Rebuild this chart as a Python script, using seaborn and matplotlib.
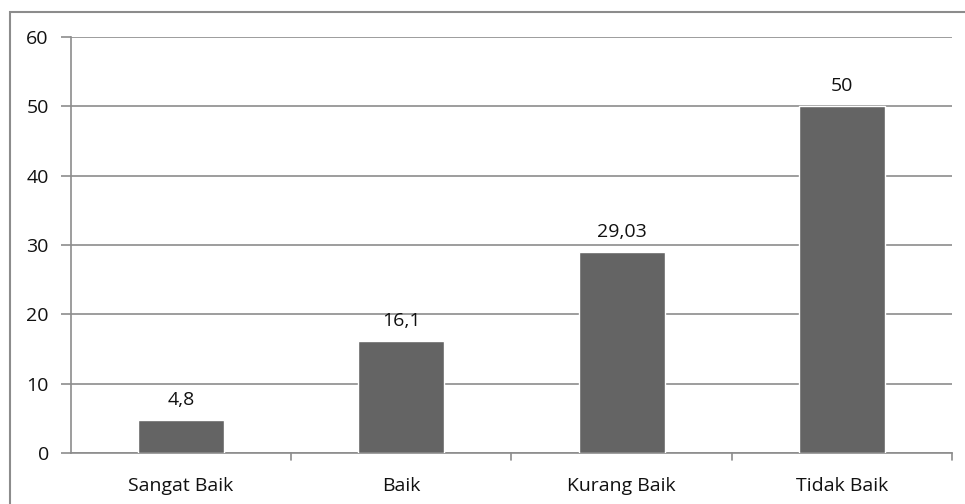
import pandas as pd
import seaborn as sns
import matplotlib.pyplot as plt
from matplotlib.patches import Rectangle

categories = ["Sangat Baik", "Baik", "Kurang Baik", "Tidak Baik"]
values = [4.8, 16.1, 29.03, 50]
value_labels = ["4,8", "16,1", "29,03", "50"]

df = pd.DataFrame({"kategori": categories, "nilai": values})

sns.set_style("white")
plt.rcParams["font.family"] = ["Open Sans", "DejaVu Sans"]

fig = plt.figure(figsize=(9.65, 5.04), dpi=100)
ax = fig.add_axes([71 / 965, 1 - 453 / 504, (952 - 71) / 965, (453 - 37) / 504])

grey = "#8c8c8c"
fs = 14
sns.barplot(data=df, x="kategori", y="nilai", color="#646464", width=0.39,
            saturation=1, ax=ax, zorder=3)

ax.set_ylim(0, 60)
ax.set_xlim(-0.5, 3.5)
ax.set_yticks(range(0, 61, 10))
ax.yaxis.grid(True, color=grey, linewidth=1.2, zorder=0)
ax.set_axisbelow(True)
ax.set_xlabel("")
ax.set_ylabel("")

for s in ["top", "right"]:
    ax.spines[s].set_visible(False)
for s in ["left", "bottom"]:
    ax.spines[s].set_color(grey)
    ax.spines[s].set_linewidth(1.2)

ax.tick_params(axis="y", length=7, width=1.2, color=grey, labelsize=fs,
               labelcolor="#111111", pad=9, left=True)
ax.tick_params(axis="x", length=0, labelsize=fs, labelcolor="#111111", pad=17)
for x in [0.5, 1.5, 2.5, 3.5]:
    ax.plot([x, x], [0, -1.0], color=grey, linewidth=1.2, clip_on=False)

for i, (v, lab) in enumerate(zip(values, value_labels)):
    ax.annotate(lab, (i, v), xytext=(0, 8), textcoords="offset points",
                ha="center", va="bottom", fontsize=fs, color="#111111")

fig.patches.append(Rectangle((10 / 965, -0.05), 1.1, 1.05 - 12 / 504,
                             transform=fig.transFigure, fill=False,
                             edgecolor=grey, linewidth=1.5))

fig.savefig("out.png", dpi=100)
